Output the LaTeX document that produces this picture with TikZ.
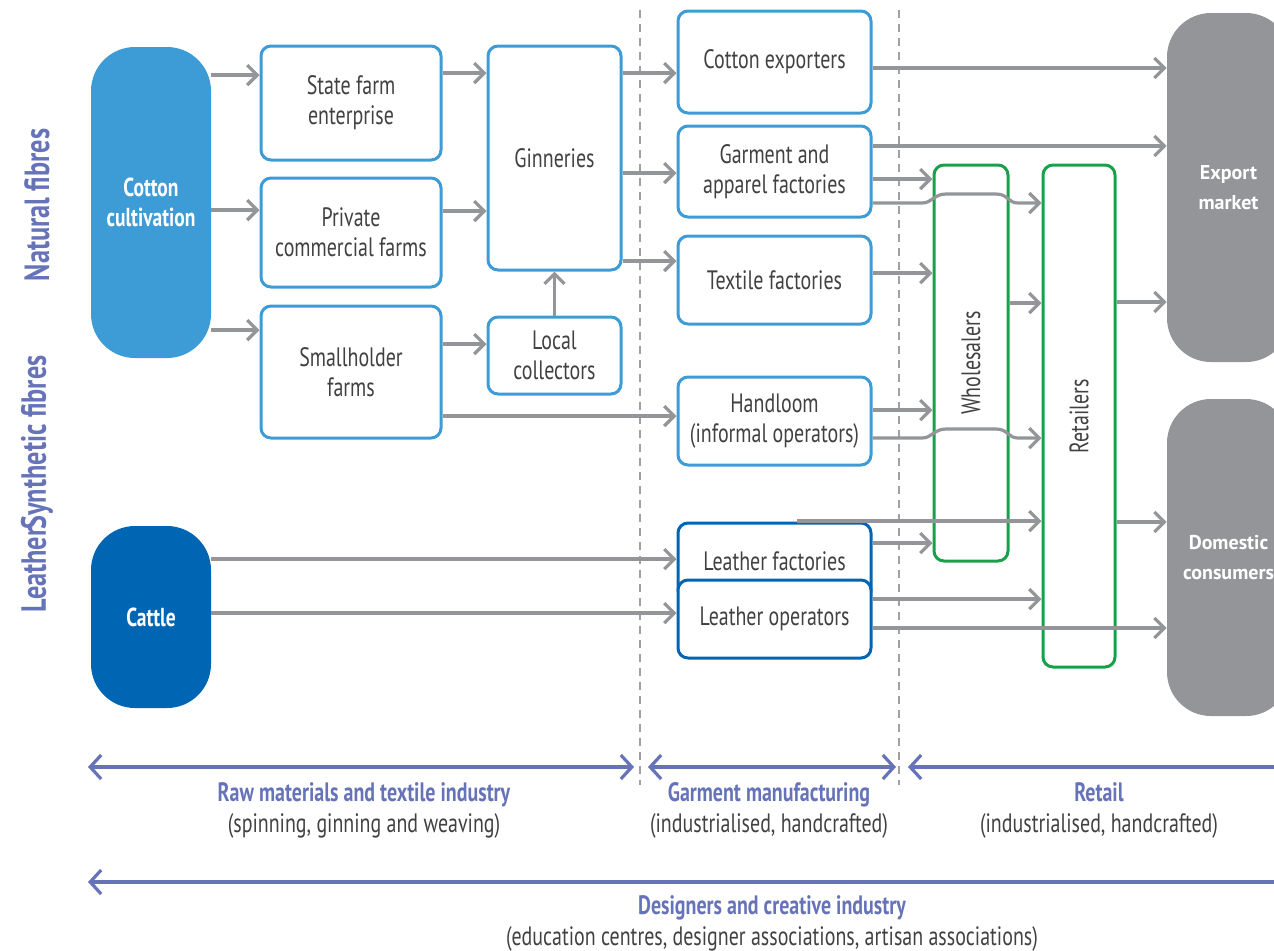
\documentclass[tikz,border=0pt]{standalone}
\usepackage{fontspec}
\setmainfont{PT Sans}[FakeStretch=0.75]
\newfontfamily\widefont{PT Sans}
\usetikzlibrary{positioning, arrows.meta}

\definecolor{boxblue}{RGB}{61,155,214}
\definecolor{leablue}{RGB}{0,102,179}
\definecolor{retgreen}{RGB}{26,160,75}
\definecolor{arrgray}{RGB}{147,149,152}
\definecolor{mktgray}{RGB}{147,149,152}
\definecolor{divgray}{RGB}{160,160,160}
\definecolor{spanblue}{RGB}{102,115,184}
\definecolor{txtgray}{RGB}{65,64,66}

\begin{document}
\begin{tikzpicture}[
    x=0.5pt, y=-0.5pt,
    box/.style={rectangle, draw=boxblue, line width=1.5pt, rounded corners=5pt, fill=white,
        text=txtgray, align=center, font=\fontsize{13.3}{15}\selectfont},
    leabox/.style={box, draw=leablue},
    src/.style={rectangle, rounded corners=22pt, minimum width=60pt, text=white, align=center,
        font=\bfseries\fontsize{13}{15}\selectfont},
    grbox/.style={rectangle, draw=retgreen, line width=1.5pt, rounded corners=5pt, fill=white},
    market/.style={rectangle, rounded corners=22pt, fill=mktgray, minimum width=61.5pt, text=white,
        align=center, font=\widefont\bfseries\fontsize{10}{15}\selectfont},
    flow/.style={draw=arrgray, line width=1.6pt, -{Straight Barb[length=5pt, width=10pt]}},
    span/.style={draw=spanblue, line width=1.6pt, {Straight Barb[length=5.5pt, width=12pt]}-{Straight Barb[length=5.5pt, width=12pt]}},
    divider/.style={draw=divgray, line width=0.7pt, dash pattern=on 4pt off 3pt},
    phase/.style={align=center, text=txtgray, font=\fontsize{13.3}{15.5}\selectfont},
    side/.style={rotate=90, text=spanblue, font=\bfseries\fontsize{17.5}{19}\selectfont}
]
\useasboundingbox (0,0) rectangle (1274,950);

% Dividers
\draw[divider] (640,10) -- (640,785);
\draw[divider] (899,10) -- (899,785);

% Side labels
\node[side] (natural) at (37,205) {Natural fibres};
\node[side] (leather) at (37,484) {Leather\kern-1pt Synthetic fibres};

% Sources
\node[src, fill=boxblue, minimum height=155.5pt] (cot) at (151,202.5) {Cotton\\cultivation};
\node[src, fill=leablue, minimum height=91pt] (cat) at (151,617) {Cattle};

% Farms
\node[box, minimum width=90pt, minimum height=57pt] (sfe) at (351,103) {State farm\\enterprise};
\node[box, minimum width=90pt, minimum height=54.5pt] (pcf) at (351,232.5) {Private\\commercial farms};
\node[box, minimum width=90pt, minimum height=66pt] (shf) at (351,372) {Smallholder\\farms};

% Ginning
\node[box, minimum width=66.5pt, minimum height=112pt] (gin) at (554.5,158) {Ginneries};
\node[box, minimum width=66.5pt, minimum height=38.5pt] (loc) at (554.5,355.5) {Local\\collectors};

% Manufacturing
\node[box, minimum width=96.5pt, minimum height=51pt] (cex) at (774.5,62) {Cotton exporters};
\node[box, minimum width=96.5pt, minimum height=45.5pt] (gar) at (774.5,171.5) {Garment and\\apparel factories};
\node[box, minimum width=96.5pt, minimum height=44pt] (tex) at (774.5,280) {Textile factories};
\node[box, minimum width=96.5pt, minimum height=44pt] (han) at (774.5,421) {Handloom\\(informal operators)};
\node[leabox, minimum width=96.5pt, minimum height=38.5pt] (lfa) at (774.5,561.5) {Leather factories};
\node[leabox, minimum width=96.5pt, minimum height=39pt] (lop) at (774.5,619) {Leather operators};

% Retail
\node[grbox, minimum width=37pt, minimum height=198pt] (who) at (971,363) {};
\node[rotate=90, text=txtgray, font=\fontsize{13.3}{15}\selectfont] (wholbl) at (who) {Wholesalers};
\node[grbox, minimum width=36pt, minimum height=251pt] (ret) at (1079,416) {};
\node[rotate=90, text=txtgray, font=\fontsize{13.3}{15}\selectfont] (retlbl) at (ret) {Retailers};

% Markets
\node[market, minimum height=174.5pt] (exp) at (1228.5,187.5) {Export\\market};
\node[market, minimum height=158.5pt] (dom) at (1228.5,557.5) {Domestic\\consumers};

% Flows
\draw[flow] (cot.east |- 0,75) -- (sfe.west |- 0,75);
\draw[flow] (cot.east |- 0,210) -- (pcf.west |- 0,210);
\draw[flow] (cot.east |- 0,330) -- (shf.west |- 0,330);
\draw[flow] (sfe.east |- 0,73) -- (gin.west |- 0,73);
\draw[flow] (pcf.east |- 0,211) -- (gin.west |- 0,211);
\draw[flow] (shf.east |- 0,344) -- (loc.west |- 0,344);
\draw[flow] (shf.east |- 0,416) -- (han.west |- 0,416);
\draw[flow] (loc) -- (gin);
\draw[flow] (gin.east |- 0,73) -- (cex.west |- 0,73);
\draw[flow] (gin.east |- 0,173) -- (gar.west |- 0,173);
\draw[flow] (gin.east |- 0,261) -- (tex.west |- 0,261);
\draw[flow] (cat.east |- 0,559) -- (lfa.west |- 0,559);
\draw[flow] (cat.east |- 0,613) -- (lop.west |- 0,613);

\draw[flow] (cex.east |- 0,68) -- (exp.west |- 0,68);
\draw[flow] (gar.east |- 0,146) -- (exp.west |- 0,146);
\draw[flow] (gar.east |- 0,179) -- (who.west |- 0,179);
\draw[flow] (gar.east |- 0,203) -- (922,203) .. controls (932,203) and (934,194) .. (946,194)
    -- (996,194) .. controls (1008,194) and (1008,203) .. (1018,203) -- (ret.west |- 0,203);
\draw[flow] (tex.east |- 0,273) -- (who.west |- 0,273);
\draw[flow] (han.east |- 0,410) -- (who.west |- 0,410);
\draw[flow] (han.east |- 0,438) -- (922,438) .. controls (932,438) and (934,429) .. (946,429)
    -- (996,429) .. controls (1008,429) and (1008,438) .. (1018,438) -- (ret.west |- 0,438);
\coordinate (lfastub) at (797,521);
\draw[flow] (lfastub) -- (ret.west |- lfastub);
\draw[flow] (lfa.east |- 0,543) -- (who.west |- 0,543);
\draw[flow] (lop.east |- 0,599) -- (ret.west |- 0,599);
\draw[flow] (lop.east |- 0,628) -- (dom.west |- 0,628);
\draw[flow] (who.east |- 0,303) -- (ret.west |- 0,303);
\draw[flow] (ret.east |- 0,302) -- (exp.west |- 0,302);
\draw[flow] (ret.east |- 0,522) -- (dom.west |- 0,522);

% Phases
\coordinate (rawL) at (88,767);
\coordinate (rawR) at (634,767);
\coordinate (garL) at (648,767);
\coordinate (garR) at (896,767);
\coordinate (retL) at (908,767);
\coordinate (retR) at (1290,767);
\coordinate (desL) at (88,882);
\coordinate (desR) at (1290,882);
\draw[span] (rawL) -- (rawR);
\draw[span] (garL) -- (garR);
\draw[draw=spanblue, line width=1.6pt, {Straight Barb[length=5.5pt, width=12pt]}-] (retL) -- (retR);
\draw[draw=spanblue, line width=1.6pt, {Straight Barb[length=5.5pt, width=12pt]}-] (desL) -- (desR);

\node[phase] (rawlbl) at (364,810) {\textcolor{spanblue}{\bfseries Raw materials and textile industry}\\(spinning, ginning and weaving)};
\node[phase] (garlbl) at (769,810) {\textcolor{spanblue}{\bfseries Garment manufacturing}\\(industrialised, handcrafted)};
\node[phase] (retlbl2) at (1099,810) {\textcolor{spanblue}{\bfseries Retail}\\(industrialised, handcrafted)};
\node[phase] (deslbl) at (772,923) {\textcolor{spanblue}{\bfseries Designers and creative industry}\\(education centres, designer associations, artisan associations)};

\end{tikzpicture}
\end{document}
